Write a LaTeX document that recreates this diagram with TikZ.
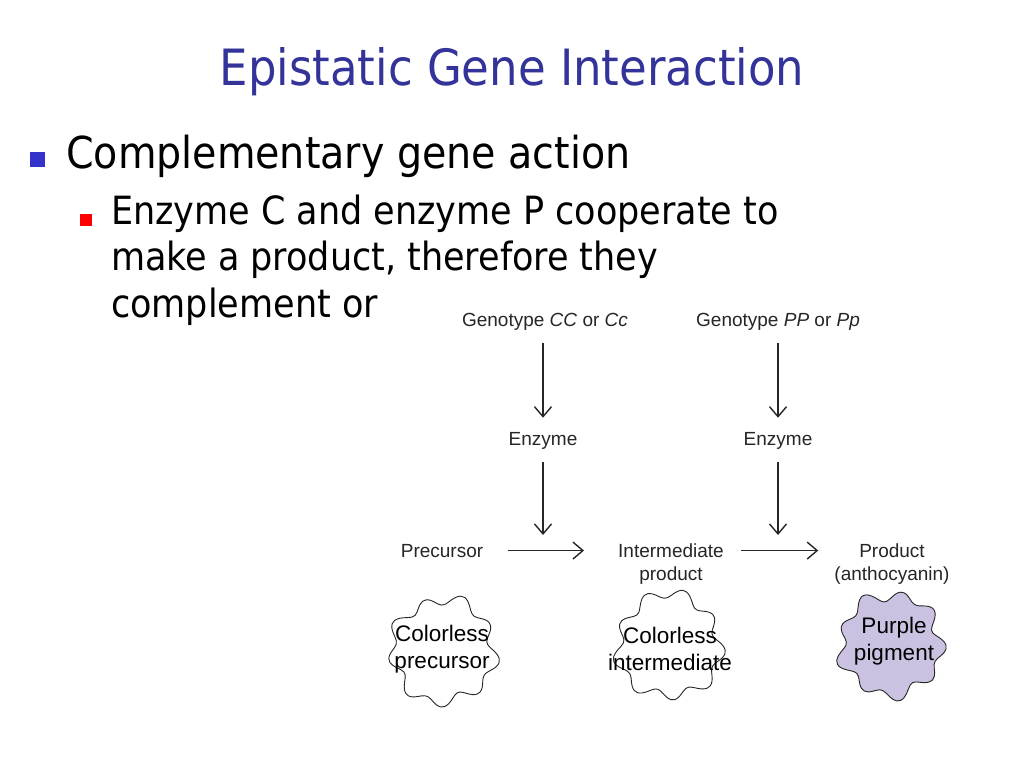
\documentclass[tikz,border=0pt]{standalone}
\usepackage{fontspec}
\setmainfont{Liberation Sans}
\newfontfamily\slidefont{DejaVu Sans Condensed}
\usetikzlibrary{arrows.meta}
\definecolor{titleblue}{HTML}{333399}
\definecolor{dotblue}{HTML}{3333CC}
\definecolor{dotred}{HTML}{FF0000}
\definecolor{ink}{HTML}{262626}
\definecolor{lilac}{HTML}{CBC2E2}
\tikzset{
  slidetitle/.style={anchor=base, inner sep=0pt, text=titleblue, font=\slidefont\fontsize{50}{60}\selectfont},
  levelone/.style={anchor=base west, inner sep=0pt, font=\slidefont\fontsize{44}{52}\selectfont},
  leveltwo/.style={anchor=base west, inner sep=0pt, font=\slidefont\fontsize{38.9}{47}\selectfont},
  label/.style={anchor=base, inner sep=0pt, text=ink, align=center, font=\fontsize{19}{23}\selectfont},
  blobtext/.style={anchor=center, inner sep=0pt, align=center, font=\fontsize{22.5}{27}\selectfont},
  blob/.style={draw=ink, line width=0.9pt},
  flow/.style={draw=ink, line width=1.4pt, -{Straight Barb[length=10pt,width=17pt,line width=1.4pt]}}
}
\begin{document}
\begin{tikzpicture}[x=1pt,y=-1pt]
\useasboundingbox[fill=white] (0,0) rectangle (1024,768);
\node[slidetitle] (ttl) at (512,85) {Epistatic Gene Interaction};
\node[fill=dotblue, minimum size=15pt, inner sep=0pt] (dot1) at (37,159.5) {};
\node[levelone] (l1) at (66,168) {Complementary gene action};
\node[fill=dotred, minimum size=12pt, inner sep=0pt] (dot2) at (86,220) {};
\node[leveltwo] (l2) at (111,224) {Enzyme C and enzyme P cooperate to};
\node[leveltwo] (l3) at (111,270) {make a product, therefore they};
\node[leveltwo] (l4) at (111,317) {complement or};
% pathway
\node[label] (gc) at (545,326) {Genotype \textit{CC} or \textit{Cc}};
\node[label] (gp) at (778,326) {Genotype \textit{PP} or \textit{Pp}};
\node[label] (ec) at (543,445) {Enzyme};
\node[label] (ep) at (778,445) {Enzyme};
\node[label] (pre) at (442,557) {Precursor};
\node[label] (im) at (671,580) {Intermediate\\product};
\node[label] (prod) at (892,580) {Product\\(anthocyanin)};
\coordinate (jc) at (543,535);
\coordinate (jp) at (778,535);
\draw[flow, shorten <=13pt, shorten >=14pt] (gc.south -| ec) -- (ec.north);
\draw[flow, shorten <=13pt] (ec.south) -- (jc);
\draw[flow, shorten <=13pt, shorten >=14pt] (gp.south -| ep) -- (ep.north);
\draw[flow, shorten <=13pt] (ep.south) -- (jp);
\draw[flow, shorten <=25pt, shorten >=34pt] (pre.east) -- (pre.east -| im.west);
\draw[flow, shorten <=17pt, shorten >=16pt] (pre.east -| im.east) -- (pre.east -| prod.west);
% blobs
\coordinate (bp) at (443,651);
\coordinate (bi) at (669,646);
\coordinate (bg) at (891,645);
\draw[blob, fill=white, shift={(bp)}] plot[domain=0:356, samples=90, smooth cycle] ({(51+5*sin(9*\x)+2*sin(4*\x))*cos(\x)}, {(51+5*sin(9*\x)+2*sin(4*\x))*sin(\x)});
\draw[blob, fill=white, shift={(bi)}] plot[domain=0:356, samples=90, smooth cycle] ({(51+5*sin(9*\x+40)+2*sin(3*\x))*cos(\x)}, {(51+5*sin(9*\x+40)+2*sin(3*\x))*sin(\x)});
\draw[blob, fill=lilac, shift={(bg)}] plot[domain=0:356, samples=90, smooth cycle] ({(50+5*sin(9*\x+80)+2*sin(5*\x))*cos(\x)}, {(50+5*sin(9*\x+80)+2*sin(5*\x))*sin(\x)});
\node[blobtext] (tp) at (442,649) {Colorless\\precursor};
\node[blobtext] (ti) at (670,649) {Colorless\\intermediate};
\node[blobtext] (tg) at (894,641) {Purple\\pigment};
\end{tikzpicture}
\end{document}
